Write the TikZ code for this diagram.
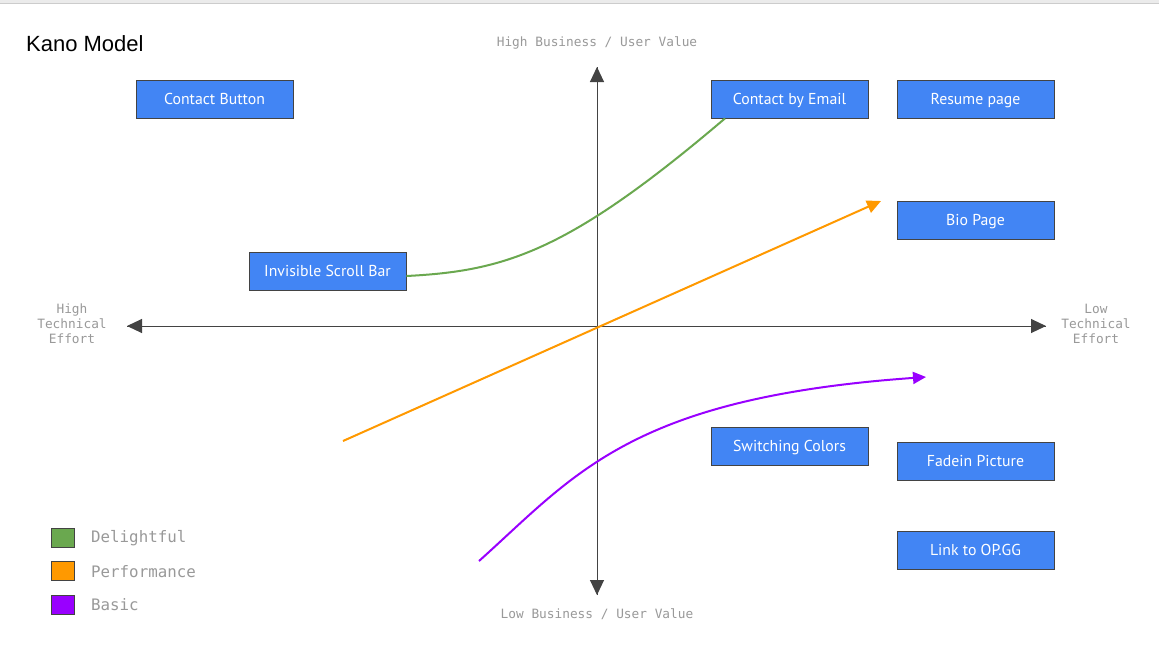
\documentclass[tikz,border=0pt]{standalone}
\usepackage{fontspec}
\usepackage{tikz}
\usepackage{xcolor}
\usetikzlibrary{arrows.meta}
\setmainfont{PT Sans}
\newfontfamily\titlefont{Liberation Sans}
\newfontfamily\monofont{DejaVu Sans Mono}
\definecolor{box-blue}{HTML}{4285F4}
\definecolor{box-edge}{HTML}{434343}
\definecolor{axis-gray}{HTML}{434343}
\definecolor{label-gray}{HTML}{999999}
\definecolor{delight-green}{HTML}{6AA84F}
\definecolor{perf-orange}{HTML}{FF9900}
\definecolor{basic-purple}{HTML}{9900FF}
\tikzset{
    feature-box/.style = {draw=box-edge, fill=box-blue, text=white, thick, rectangle, minimum width=157pt, minimum height=38pt, inner sep=0pt, text height=13pt, text depth=3pt, font=\fontsize{15.8}{17}\selectfont},
    axis-label/.style = {text=label-gray, font=\monofont\fontsize{12.8}{15}\selectfont, align=center, inner sep=0pt},
    axis-line/.style = {draw=axis-gray, line width=1pt, -{Triangle[length=15pt, width=14pt]}},
    legend-key/.style = {draw=box-edge, thick, rectangle, minimum width=23pt, minimum height=19pt, inner sep=0pt},
    legend-text/.style = {text=label-gray, font=\monofont\fontsize{15.8}{17}\selectfont, anchor=west, inner sep=0pt},
    trend-line/.style = {line width=2pt},
}

\begin{document}
\begin{tikzpicture}[x=1pt, y=-1pt]
\useasboundingbox (0,0) rectangle (1159,657);
\fill[white] (0,0) rectangle (1159,657);
\fill[black!8] (0,0) rectangle (1159,3);
\draw[black!20] (0,3.5) -- (1159,3.5);

\node[anchor=base west, inner sep=0pt, font=\titlefont\fontsize{22}{26}\selectfont] (title) at (26,51) {Kano Model};

% axes
\coordinate (v-top) at (597,67);
\coordinate (v-bot) at (597,595);
\coordinate (h-left) at (127,326);
\coordinate (h-right) at (1046,326);
\draw[axis-line] (v-bot) -- (v-top);
\draw[axis-line] (v-top) -- (v-bot);
\draw[axis-line] (h-right) -- (h-left);
\draw[axis-line] (h-left) -- (h-right);
\node[axis-label] (high-value) at (597,43) {High Business / User Value};
\node[axis-label] (low-value) at (597,614) {Low Business / User Value};
\node[axis-label] (high-effort) at (72,324) {High\\Technical\\Effort};
\node[axis-label] (low-effort) at (1096,324) {Low\\Technical\\Effort};

% features
\node[feature-box] (contact-button) at (214.5,99) {Contact Button};
\node[feature-box] (contact-email) at (789.5,99) {Contact by Email};
\node[feature-box] (resume) at (975.5,99) {Resume page};
\node[feature-box] (bio) at (975.5,220.5) {Bio Page};
\node[feature-box] (scroll-bar) at (327.5,271) {Invisible Scroll Bar};
\node[feature-box] (colors) at (789.5,446) {Switching Colors};
\node[feature-box] (fadein) at (975.5,461) {Fadein Picture};
\node[feature-box] (opgg) at (975.5,550) {Link to OP.GG};

% curves
\draw[trend-line, delight-green] ([yshift=-5pt]scroll-bar.east) .. controls (505,271) and (568,252) .. (contact-email.south -| 725,0);
\coordinate (perf-start) at (343,441);
\coordinate (perf-end) at (881,201);
\draw[trend-line, perf-orange, -{Triangle[length=14pt, width=13pt]}] (perf-start) -- (perf-end);
\coordinate (basic-start) at (479,561);
\coordinate (basic-end) at (926,377);
\draw[trend-line, basic-purple, -{Triangle[length=13pt, width=12pt]}] (basic-start) .. controls (575,475) and (630,398) .. (basic-end);

% legend
\node[legend-key, fill=delight-green] (key-delight) at (62.5,537.5) {};
\node[legend-key, fill=perf-orange] (key-perf) at (62.5,571) {};
\node[legend-key, fill=basic-purple] (key-basic) at (62.5,604.5) {};
\node[legend-text] (txt-delight) at (91,538) {Delightful};
\node[legend-text] (txt-perf) at (91,571.5) {Performance};
\node[legend-text] (txt-basic) at (91,605) {Basic};
\end{tikzpicture}
\end{document}
